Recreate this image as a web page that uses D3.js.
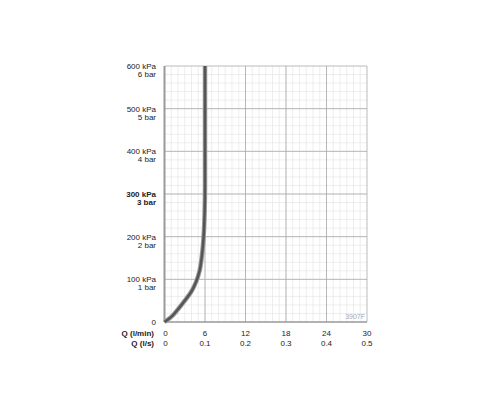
<!DOCTYPE html>
<html><head><meta charset="utf-8">
<script src="https://cdn.jsdelivr.net/npm/d3@7"></script>
<style>body{margin:0;background:#fff}text{font-family:"Liberation Sans",Arial,sans-serif;font-size:8px;fill:#222}</style>
</head><body><svg id="c" width="500" height="400"></svg>
<script>
var flowQ = [0, 1, 2, 3, 4, 4.7, 5.2, 5.5, 5.7, 5.85, 5.95, 6, 6, 6];
var pressure = [0, 12, 30, 50, 72, 95, 120, 150, 180, 215, 260, 320, 450, 600];
var xTicks = [0, 6, 12, 18, 24, 30];
var xTicksLs = ["0", "0.1", "0.2", "0.3", "0.4", "0.5"];
var yTicks = [100, 200, 300, 400, 500, 600];

var svg = d3.select("#c");
var x = d3.scaleLinear().domain([0, 30]).range([164.5, 367]);
var y = d3.scaleLinear().domain([0, 600]).range([322, 66]);

// minor grid
svg.selectAll(".mx").data(d3.range(1, 30)).enter().append("line")
  .attr("x1", d => x(d)).attr("x2", d => x(d)).attr("y1", y(0)).attr("y2", y(600))
  .attr("stroke", "#e2e2e2").attr("stroke-width", 0.6);
svg.selectAll(".my").data(d3.range(20, 600, 20)).enter().append("line")
  .attr("y1", d => y(d)).attr("y2", d => y(d)).attr("x1", x(0)).attr("x2", x(30))
  .attr("stroke", "#e2e2e2").attr("stroke-width", 0.6);
// major grid
svg.selectAll(".Mx").data(xTicks.slice(1)).enter().append("line")
  .attr("x1", d => x(d)).attr("x2", d => x(d)).attr("y1", y(0)).attr("y2", y(600))
  .attr("stroke", "#aaa").attr("stroke-width", 0.8);
svg.selectAll(".My").data(yTicks).enter().append("line")
  .attr("y1", d => y(d)).attr("y2", d => y(d)).attr("x1", x(0)).attr("x2", x(30))
  .attr("stroke", "#aaa").attr("stroke-width", 0.8);
// axes
svg.append("line").attr("x1", x(0)).attr("x2", x(30)).attr("y1", y(0)).attr("y2", y(0)).attr("stroke", "#999").attr("stroke-width", 1.5);
svg.append("line").attr("x1", x(0)).attr("x2", x(0)).attr("y1", y(0)).attr("y2", y(600)).attr("stroke", "#999").attr("stroke-width", 2);

// y labels
yTicks.forEach(function(v) {
  var bold = v === 300 ? "bold" : "normal";
  svg.append("text").attr("x", 156).attr("y", y(v) + 3).attr("text-anchor", "end").attr("font-weight", bold).text(v + " kPa");
  svg.append("text").attr("x", 156).attr("y", y(v) + 11).attr("text-anchor", "end").attr("font-weight", bold).text(v / 100 + " bar");
});
svg.append("text").attr("x", 156).attr("y", y(0) + 3).attr("text-anchor", "end").text("0");

// x labels
svg.append("text").attr("x", 154).attr("y", 336).attr("text-anchor", "end").attr("font-weight", "bold").text("Q (l/min)");
svg.append("text").attr("x", 154).attr("y", 346).attr("text-anchor", "end").attr("font-weight", "bold").text("Q (l/s)");
xTicks.forEach(function(v, i) {
  svg.append("text").attr("x", i === 0 ? x(v) + 1 : x(v)).attr("y", 336).attr("text-anchor", "middle").text(v);
  svg.append("text").attr("x", i === 0 ? x(v) + 1 : x(v)).attr("y", 346).attr("text-anchor", "middle").text(xTicksLs[i]);
});
svg.append("text").attr("x", 365).attr("y", 319).attr("text-anchor", "end").style("fill", "#aaa").style("font-size", "7px").text("3907F");

// curve
var pts = flowQ.map((q, i) => [q, pressure[i]]);
var line = d3.line().x(d => x(d[0])).y(d => y(d[1])).curve(d3.curveMonotoneY);
svg.append("path").attr("d", line(pts)).attr("fill", "none").attr("stroke", "#999").attr("stroke-width", 4.5);
svg.append("path").attr("d", line(pts)).attr("fill", "none").attr("stroke", "#555").attr("stroke-width", 2.5);
</script></body></html>
